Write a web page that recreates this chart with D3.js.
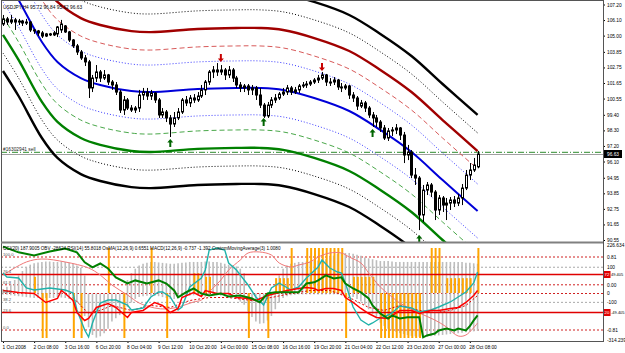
<!DOCTYPE html>
<html>
<head>
<meta charset="utf-8">
<script src="https://cdn.jsdelivr.net/npm/d3@7/dist/d3.min.js"></script>
<style>
body { margin: 0; background: #fff; }
svg { display: block; }
text { font-family: "Liberation Sans", Arial, sans-serif; }
</style>
</head>
<body>
<svg id="chart" width="625" height="353"></svg>
<script>
// USDJPY H4, 1 - 28 Oct 2008, one row per bar: [open, high, low, close]
var bars = [
[105.82,106.46,105.68,106.18],[106.18,106.32,105.75,105.96],[105.96,106.46,105.82,106.11],[106.11,106.25,105.40,105.96],
[105.96,106.18,105.75,106.03],[106.03,106.11,105.68,105.89],[105.89,106.18,105.75,105.96],[105.96,106.03,105.26,105.40],
[105.40,105.47,105.12,105.33],[105.33,105.40,104.97,105.19],[105.19,105.33,104.83,104.97],[104.97,105.19,104.90,105.12],
[105.12,105.19,104.97,105.05],[105.05,105.33,104.97,105.19],[105.12,105.68,104.90,105.61],[105.40,106.11,105.19,105.82],
[105.68,105.75,105.19,105.26],[105.26,105.33,104.55,104.69],[104.69,104.76,104.13,104.27],[104.27,104.41,103.63,103.84],
[103.84,103.98,103.28,103.42],[103.42,103.63,102.85,103.14],[103.14,103.28,100.59,101.30],[101.30,102.22,101.01,102.00],
[102.00,102.92,101.72,102.43],[102.43,102.57,101.72,102.00],[102.00,102.57,101.86,102.22],[102.22,102.29,101.51,101.72],
[101.72,101.86,101.16,101.51],[101.51,101.72,100.80,101.01],[101.01,101.16,99.53,99.74],[99.74,100.73,99.39,100.45],
[100.45,100.59,99.74,99.88],[99.88,100.09,99.60,99.74],[99.74,100.02,99.53,99.88],[99.88,101.16,99.60,100.80],
[100.80,101.30,100.45,101.01],[101.01,101.30,100.45,100.73],[100.73,101.16,100.45,100.94],[100.94,101.01,100.24,100.45],
[100.45,100.59,99.18,99.39],[99.39,99.88,99.18,99.60],[99.60,99.74,98.89,99.18],[99.18,99.39,97.83,98.75],
[98.75,99.60,98.54,99.18],[99.18,99.88,99.03,99.60],[99.60,100.59,99.46,100.45],[100.45,100.73,100.02,100.24],
[100.24,100.80,99.95,100.59],[100.59,100.87,100.24,100.45],[100.45,101.01,100.31,100.73],[100.73,101.51,100.59,101.16],
[101.16,101.86,100.80,101.72],[101.72,102.57,101.51,102.43],[102.43,102.85,102.00,102.57],[102.57,103.06,102.15,102.43],
[102.43,102.92,102.22,102.57],[102.57,102.71,101.86,102.22],[102.22,102.85,102.00,102.57],[102.57,102.71,101.72,102.00],
[102.00,102.15,101.30,101.51],[101.51,101.72,101.01,101.30],[101.30,101.58,101.01,101.44],[101.44,101.58,100.80,101.16],
[101.16,101.51,100.80,101.30],[101.30,101.44,100.45,100.80],[100.80,101.30,99.88,100.09],[100.09,100.24,99.18,99.32],
[99.32,100.31,99.18,100.09],[100.09,100.66,99.88,100.45],[100.45,100.87,100.24,100.59],[100.59,101.01,100.45,100.87],
[100.87,101.30,100.73,101.01],[101.01,101.51,100.80,101.30],[101.30,101.44,100.80,101.01],[101.01,101.37,100.87,101.16],
[101.16,101.58,100.94,101.44],[101.44,101.72,101.30,101.51],[101.51,101.79,101.30,101.58],[101.58,101.86,101.44,101.72],
[101.72,102.00,101.58,101.86],[101.86,102.22,101.65,102.00],[102.00,102.43,101.86,102.22],[102.22,102.29,101.44,101.72],
[101.72,102.00,101.44,101.72],[101.72,102.07,101.51,101.86],[101.86,101.93,101.16,101.37],[101.37,101.65,101.01,101.30],
[101.30,101.58,101.16,101.44],[101.44,101.51,100.52,100.80],[100.80,101.01,100.31,100.59],[100.59,100.73,99.74,100.02],
[100.02,100.45,99.88,100.24],[100.24,100.38,99.60,99.88],[99.88,100.02,99.18,99.39],[99.39,99.60,98.54,99.18],
[99.18,99.39,98.54,98.89],[98.89,99.03,98.19,98.47],[98.47,98.68,97.62,97.76],[97.76,98.47,97.55,98.26],
[98.26,98.54,97.90,98.33],[98.33,98.75,98.04,98.47],[98.47,98.54,97.62,97.97],[97.97,98.19,95.99,96.56],
[96.56,97.27,96.20,96.77],[96.77,96.91,94.93,95.14],[95.14,95.64,94.44,94.93],[94.93,95.07,91.25,92.32],
[92.32,94.44,91.82,94.08],[94.08,94.65,93.73,94.44],[94.44,94.58,93.59,93.94],[93.94,94.08,91.96,92.67],
[92.67,93.73,92.32,93.52],[93.52,93.66,92.53,93.02],[93.02,93.52,91.96,93.16],[93.16,93.59,92.67,93.38],
[93.38,93.66,92.88,93.16],[93.16,93.80,92.95,93.52],[93.52,94.51,93.02,94.22],[94.22,95.50,94.08,95.14],
[95.14,95.99,94.79,95.50],[95.50,96.35,95.36,95.85],[95.72,96.84,95.62,96.63]
];

// time labels, one every 8 bars
var timeLabels = ["1 Oct 2008","2 Oct 08:00","3 Oct 16:00","6 Oct 20:00","8 Oct 04:00","9 Oct 12:00",
  "10 Oct 20:00","14 Oct 00:00","15 Oct 08:00","16 Oct 16:00","19 Oct 20:00","21 Oct 04:00",
  "22 Oct 12:00","23 Oct 20:00","27 Oct 00:00","28 Oct 08:00"];
var priceTicks = [107.20,106.10,105.00,103.85,102.75,101.65,100.55,99.40,98.30,97.20,96.10,94.95,93.85,92.75,91.65,90.55];
var lastPrice = 96.63;
var orderPrice = 96.75;
var orderText = "#16302941 sell";
var title = "USDJPY,H4  95.72 96.84 95.62 96.63";

// regression channel: centre line [bar, price] and band deviations (price units)
var channelCenter = [[0,109.29],[4,107.52],[10,104.55],[14,103.14],[20,102.00],[25,101.51],[33,101.08],[38,101.01],
  [50,101.23],[60,101.30],[66,101.30],[72,101.16],[80,100.59],[89,99.67],[97,98.33],[105,96.77],[113,94.79],[122,92.60]];
var channelDevs = [1.91, 2.97, 4.24, 5.52, 6.79];

// signal arrows [bar, price, direction]
var arrows = [[43,97.41,"up"],[56,103.42,"down"],[67,98.89,"up"],[82,102.78,"down"],[95,98.11,"up"],[107,90.62,"up"]];

// indicator window
var indicatorText = "CCI(20) 187.9005  OBV -28624  RSI(14) 55.8018  OsMA(12,26,9) 0.6551  MACD(12,26,9) -0.737 -1.392  CustomMovingAverage(3) 1.0080";
var cciLine = [[0,67],[1,44.5],[4,38.8],[6,-18.2],[8,-29.5],[12,-18.2],[16,-29.5],[18,-46.6],[19,-143.4],[21,-257.3],
  [22,-297.1],[23,-217.4],[25,-103.6],[27,-86.5],[29,-86.5],[32,-114.9],[33,-143.4],[36,-132],[38,-69.4],[40,-40.9],
  [41,-40.9],[43,-69.4],[45,-143.4],[46,-126.3],[48,-12.5],[51,38.8],[52,84.3],[53,198.2],[55,209.6],[57,198.2],
  [58,124.2],[60,84.3],[63,-1.1],[65,-69.4],[67,-114.9],[69,-18.2],[71,10.3],[74,-29.5],[76,-12.5],[78,38.8],
  [81,101.4],[82,141.2],[84,95.7],[86,72.9],[87,67.2],[88,10.3],[90,-126.3],[92,-200.3],[94,-228.8],[95,-217.4],
  [97,-189],[99,-171.9],[100,-160.5],[102,-120.6],[105,-132],[107,-154.8],[110,-143.4],[112,-126.3],[115,-97.9],
  [117,-69.4],[119,-40.9],[121,10.3],[122,72.9]];
var cmaLine = [[0,55.8],[6,129.9],[10,146.9],[16,129.9],[22,95.7],[25,55.8],[28,-1.1],[32,-58],[35,-103.6],[39,-132],
  [42,-137.7],[45,-126.3],[49,-97.9],[51,-86.5],[53,-40.9],[56,27.4],[58,84.3],[61,141.2],[63,181.1],[66,186.8],
  [69,169.7],[71,124.2],[74,101.4],[76,112.8],[79,129.9],[81,158.3],[84,181.1],[87,181.1],[89,158.3],[92,124.2],
  [94,67.2],[97,-12.5],[100,-69.4],[102,-103.6],[107,-160.5],[111,-200.3],[114,-240.2],[117,-291.4],[119,-285.7],[122,-217.4]];
var rsiLine = [[0,50.1],[4,47.4],[8,46],[11,33.7],[14,39.2],[15,50.1],[16,46],[18,36.4],[19,20],[21,9.1],[22,11.8],
  [24,26.9],[27,32.3],[29,26.9],[32,13.2],[33,20],[36,22.8],[39,33.7],[41,29.6],[43,20],[45,25.5],[46,40.5],[49,47.4],
  [51,41.9],[52,50.1],[55,46],[58,46],[60,40.5],[63,39.2],[65,36.4],[68,43.3],[70,46],[73,50.1],[76,52.8],[78,54.2],
  [80,52.8],[81,50.1],[83,52.8],[85,52.8],[87,50.1],[88,40.5],[90,33.7],[92,25.5],[94,18.6],[96,13.2],[99,11.8],
  [102,22.8],[105,22.8],[107,18.6],[110,22.8],[112,22.8],[115,25.5],[117,26.9],[119,33.7],[121,43.3],[122,50.1]];
var rsiSignal = [[18,40.5],[22,18.6],[25,22.8],[28,29.6],[33,22.8],[38,29.6],[43,26.9],[48,36.4],[53,40.5],[58,40.5],
  [64,36.4],[69,40.5],[74,46],[79,50.1],[84,50.1],[89,40.5],[94,26.9],[98,22.8],[102,29.6],[107,22.8],[111,20],
  [115,22.8],[119,29.6],[122,43.3]];
var obvLine = [[0,122],[4,107],[8,99],[12,109],[16,117],[19,107],[21,81],[23,68],[25,78],[27,65],[29,42],[32,26],
  [34,34],[37,26],[40,34],[42,26],[44,8],[45,-10],[47,3],[49,13],[51,0],[53,-5],[56,0],[58,-8],[61,-5],[64,-13],
  [66,-23],[68,0],[70,3],[73,3],[76,3],[78,26],[80,29],[81,34],[83,47],[85,39],[87,42],[88,26],[90,13],[92,3],
  [94,-13],[95,-31],[97,-52],[99,-65],[100,-57],[102,-65],[104,-62],[106,-62],[107,-62],[108,-114],[109,-109],
  [111,-104],[112,-96],[114,-91],[116,-96],[117,-91],[119,-96],[120,-85],[121,-70],[122,-57]];
// grey histograms, one value per bar
var osmaHist = [0.10,0.15,0.20,0.30,0.40,0.50,0.58,
  0.64,0.67,0.69,0.70,0.71,0.71,0.70,0.70,0.71,0.70,0.68,0.66,0.62,0.57,
  0.40,0,0,0,0,0,0,0,0,0,0,
  0.30,0.45,0.55,0.62,0.66,0.68,0.70,0.70,0.69,0.68,0.67,0.66,0.66,0.67,0.68,0.69,0.70,0.70,0.70,
  0.70,0.71,0.71,0.70,0.70,0.68,0.66,0.64,0.62,0.60,0.55,0.45,
  0,0,0,0,0,0,0,0,
  0.40,0.55,0.62,0.66,0.68,0.70,0.70,0.71,0.72,0.72,0.73,0.74,0.76,0.80,
  0.84,0.88,0.90,0.90,0.90,0.88,0.86,0.84,
  0.80,0.78,0.76,0.74,0.72,0.72,0.72,0.71,0.70,0.70,0.70,0.70,0.70,0.70,0.70,0.70,0.70,0.70,0.70,0.70,
  0.70,0.70,0.70,0.70,0.70,0.70,0.68,0.68,0.67,0.66];
var macdHist = [-0.02,-0.03,-0.04,-0.05,-0.06,-0.07,-0.08,-0.09,-0.10,-0.10,-0.10,-0.10,-0.10,-0.10,-0.09,-0.09,-0.10,-0.12,-0.15,-0.20,-0.30,
  -0.50,-0.75,-0.92,-0.98,-0.95,-0.88,-0.78,-0.62,-0.55,-0.48,-0.40,
  -0.30,-0.20,-0.12,-0.08,-0.06,-0.05,-0.05,-0.05,-0.06,-0.08,-0.10,-0.12,-0.12,-0.10,-0.08,-0.06,-0.05,-0.04,-0.04,-0.03,
  -0.03,-0.03,-0.03,-0.04,-0.05,-0.06,-0.08,-0.10,-0.12,-0.18,-0.25,
  -0.40,-0.52,-0.62,-0.67,-0.66,-0.60,-0.50,-0.35,
  -0.20,-0.10,-0.06,-0.04,-0.03,-0.02,-0.02,-0.02,-0.02,-0.02,-0.02,-0.02,-0.02,-0.02,-0.02,-0.02,-0.02,-0.03,-0.05,-0.08,
  -0.12,-0.18,-0.25,-0.35,-0.45,-0.55,
  -0.65,-0.72,-0.78,-0.82,-0.85,-0.88,-0.90,-0.92,-0.94,-0.95,-0.96,-0.96,-0.96,-0.95,-0.94,-0.93,-0.92,-0.91,-0.90,
  -0.89,-0.88,-0.87,-0.86,-0.85,-0.84,-0.83];
// orange histogram [bar, value], clipped to the window
var orangeHist = [[8,0.36],[10,-1],[11,-1],[18,-1],[20,-1],[27,1],[31,-1],[38,1],[42,-1],[49,0.44],[50,0.44],[52,0.36],
  [53,0.36],[63,-1],[68,-1],[70,0.33],[71,0.33],[72,0.33],[73,0.33],[74,1],[78,1],[79,1],[80,1],[81,1],[82,1],[83,1],
  [84,1],[85,1],[86,1],[87,1],[88,-1],[90,0.36],[91,0.36],[92,0.36],[93,0.36],[94,0.36],[95,0.36],[97,-1],[98,-1],
  [99,-1],[100,-1],[101,-1],[102,-1],[103,-1],[104,-1],[105,-1],[106,-1],[107,-1],[110,1],[111,1],[112,1],[114,0.33],
  [115,0.33],[116,0.33],[117,0.33],[118,0.33],[119,0.33],[120,0.33],[122,1]];
var fibLevels = [100, 76.4, 61.8, 50, 38.2, 23.6, 0];
var cciTicks = [226.634, 100, 0, -100, -314.239];
var cciLevels = [100, 0, -100];
var macdTicks = [0.81, 0, -0.81];
var rsiLevels = [72, 20];
var obvTicks = [49.405, -49.405];

// layout
var main = {left: 1, right: 603, top: 1, bottom: 242};
var sub = {top: 244, bottom: 341};

var svg = d3.select("#chart");
svg.append("rect").attr("width", 625).attr("height", 353).attr("fill", "#fff");

var defs = svg.append("defs");
defs.append("clipPath").attr("id", "clipMain").append("rect")
  .attr("x", main.left).attr("y", main.top)
  .attr("width", main.right - main.left).attr("height", main.bottom - main.top);
defs.append("clipPath").attr("id", "clipSub").append("rect")
  .attr("x", main.left).attr("y", sub.top)
  .attr("width", main.right - main.left).attr("height", sub.bottom - sub.top);

// scales
var x = d3.scaleLinear().domain([0, bars.length - 1]).range([3, 477.6]);
var y = d3.scaleLinear().domain([90.55, 107.20]).range([240, 4.5]);
var cciY = d3.scaleLinear().domain([-314.239, 226.634]).range([340, 245]);
var macdY = d3.scaleLinear().domain([-0.81, 0.81]).range([330, 257]);
var rsiY = d3.scaleLinear().domain([20, 72]).range([312.5, 274.5]);
var obvY = d3.scaleLinear().domain([-49.405, 49.405]).range([312.5, 274.5]);
var fibY = d3.scaleLinear().domain([0, 100]).range([330, 257]);
var orangeY = d3.scaleLinear().domain([-1, 1]).range([338, 248]).clamp(true);

// ---------- main window ----------
var gMain = svg.append("g").attr("clip-path", "url(#clipMain)");

// order line and bid line
gMain.append("line").attr("x1", main.left).attr("x2", main.right)
  .attr("y1", y(orderPrice)).attr("y2", y(orderPrice))
  .attr("stroke", "#2e8b2e").attr("stroke-width", 1).attr("stroke-dasharray", "6,2,1,2");
gMain.append("line").attr("x1", main.left).attr("x2", main.right)
  .attr("y1", Math.round(y(lastPrice)) + 0.5).attr("y2", Math.round(y(lastPrice)) + 0.5)
  .attr("stroke", "#a0a0a0").attr("stroke-width", 1);
gMain.append("text").attr("x", 3).attr("y", y(orderPrice) - 1.5)
  .attr("font-size", "4.8px").attr("fill", "#222").text(orderText);

// regression channel
function bandLine(off) {
  return d3.line()
    .x(function(d) { return x(d[0]); })
    .y(function(d) { return y(d[1] + off); })
    .curve(d3.curveCatmullRom);
}
var bandStyle = [
  {up: "#3c3cff", down: "#3c3cff", w: 1, dash: "1,2"},
  {up: "#d85a5a", down: "#4aa84a", w: 1, dash: "5,3"},
  {up: "#a00000", down: "#008000", w: 2.4, dash: null},
  {up: "#000", down: "#000", w: 1, dash: "1,2"},
  {up: "#000", down: "#000", w: 2.4, dash: null}
];
channelDevs.forEach(function(dev, k) {
  var st = bandStyle[k];
  [[dev, st.up], [-dev, st.down]].forEach(function(p) {
    gMain.append("path").datum(channelCenter)
      .attr("d", bandLine(p[0]))
      .attr("fill", "none").attr("stroke", p[1])
      .attr("stroke-width", st.w)
      .attr("stroke-dasharray", st.dash);
  });
});
gMain.append("path").datum(channelCenter)
  .attr("d", bandLine(0))
  .attr("fill", "none").attr("stroke", "#0000d8").attr("stroke-width", 2);

// candles
var candle = gMain.selectAll(".candle").data(bars).enter().append("g");
candle.append("line")
  .attr("x1", function(d, i) { return Math.round(x(i)) + 0.5; })
  .attr("x2", function(d, i) { return Math.round(x(i)) + 0.5; })
  .attr("y1", function(d) { return y(d[1]); })
  .attr("y2", function(d) { return y(d[2]); })
  .attr("stroke", "#000").attr("stroke-width", 1);
candle.append("rect")
  .attr("x", function(d, i) { return Math.round(x(i)) - 0.5; })
  .attr("width", 2)
  .attr("y", function(d) { return y(Math.max(d[0], d[3])); })
  .attr("height", function(d) { return Math.max(1, Math.abs(y(d[0]) - y(d[3]))); })
  .attr("fill", function(d) { return d[3] >= d[0] ? "#fff" : "#000"; })
  .attr("stroke", "#000").attr("stroke-width", 1);

// arrows
gMain.selectAll(".arrow").data(arrows).enter().append("path")
  .attr("transform", function(d) {
    return "translate(" + x(d[0]) + "," + y(d[1]) + ")" + (d[2] === "down" ? " scale(1,-1)" : "");
  })
  .attr("d", "M0,-4 L3,-0.5 L1,-0.5 L1,4 L-1,4 L-1,-0.5 L-3,-0.5 Z")
  .attr("fill", function(d) { return d[2] === "down" ? "#c80000" : "#006400"; });

svg.append("text").attr("x", 3).attr("y", 9).attr("font-size", "4.8px").attr("fill", "#000").text(title);

// price axis
var yAxis = svg.append("g").attr("transform", "translate(" + main.right + ",0)")
  .call(d3.axisRight(y).tickValues(priceTicks).tickSize(2).tickFormat(d3.format(".2f")));
yAxis.select(".domain").remove();
yAxis.selectAll("text").attr("font-size", "4.8px").attr("x", 4).attr("fill", "#000");

svg.append("rect").attr("x", main.right + 1).attr("y", y(lastPrice) - 4)
  .attr("width", 18).attr("height", 8).attr("fill", "#000");
svg.append("text").attr("x", main.right + 4).attr("y", y(lastPrice) + 2)
  .attr("font-size", "4.8px").attr("fill", "#fff").text(d3.format(".2f")(lastPrice));

// ---------- indicator window ----------
var gSub = svg.append("g").attr("clip-path", "url(#clipSub)");

macdTicks.forEach(function(v) {
  gSub.append("line").attr("x1", main.left).attr("x2", main.right)
    .attr("y1", macdY(v)).attr("y2", macdY(v))
    .attr("stroke", "#d02020").attr("stroke-width", 1).attr("stroke-dasharray", "2,2");
});
cciLevels.forEach(function(v) {
  gSub.append("line").attr("x1", main.left).attr("x2", main.right)
    .attr("y1", cciY(v)).attr("y2", cciY(v))
    .attr("stroke", v === 0 ? "#d02020" : "#a8a8a8").attr("stroke-width", 1).attr("stroke-dasharray", "2,2");
});

// histograms
gSub.selectAll(".osma").data(osmaHist).enter().append("line")
  .attr("x1", function(d, i) { return x(i); }).attr("x2", function(d, i) { return x(i); })
  .attr("y1", macdY(0)).attr("y2", function(d) { return macdY(d); })
  .attr("stroke", "#bdbdbd").attr("stroke-width", 1.6);
gSub.selectAll(".macd").data(macdHist).enter().append("line")
  .attr("x1", function(d, i) { return x(i); }).attr("x2", function(d, i) { return x(i); })
  .attr("y1", macdY(0)).attr("y2", function(d) { return macdY(d); })
  .attr("stroke", "#bdbdbd").attr("stroke-width", 1.6);
gSub.selectAll(".orange").data(orangeHist).enter().append("line")
  .attr("x1", function(d) { return x(d[0]) + 0.8; }).attr("x2", function(d) { return x(d[0]) + 0.8; })
  .attr("y1", orangeY(0)).attr("y2", function(d) { return orangeY(d[1]); })
  .attr("stroke", "#ffa500").attr("stroke-width", 2);

rsiLevels.forEach(function(v) {
  gSub.append("line").attr("x1", main.left).attr("x2", main.right)
    .attr("y1", rsiY(v)).attr("y2", rsiY(v))
    .attr("stroke", "#e00000").attr("stroke-width", 1.3);
});

function indLine(sc) {
  return d3.line()
    .x(function(d) { return x(d[0]); })
    .y(function(d) { return sc(d[1]); });
}
gSub.append("path").datum(cmaLine).attr("d", indLine(cciY).curve(d3.curveCatmullRom))
  .attr("fill", "none").attr("stroke", "#f07878").attr("stroke-width", 1);
gSub.append("path").datum(rsiSignal).attr("d", indLine(rsiY))
  .attr("fill", "none").attr("stroke", "#e00000").attr("stroke-width", 1).attr("stroke-dasharray", "2,2");
gSub.append("path").datum(cciLine).attr("d", indLine(cciY))
  .attr("fill", "none").attr("stroke", "#20b2aa").attr("stroke-width", 1.4);
gSub.append("path").datum(rsiLine).attr("d", indLine(rsiY))
  .attr("fill", "none").attr("stroke", "#ff0000").attr("stroke-width", 1.5);
gSub.append("path").datum(obvLine).attr("d", indLine(obvY))
  .attr("fill", "none").attr("stroke", "#008000").attr("stroke-width", 2);

// left fib labels
svg.selectAll(".fib").data(fibLevels).enter().append("text")
  .attr("x", 3).attr("y", function(d) { return fibY(d) - 1; })
  .attr("font-size", "4.2px").attr("fill", "#555")
  .text(function(d) { return d3.format(".1f")(d); });

svg.append("text").attr("x", 3).attr("y", 250).attr("font-size", "4.6px").attr("fill", "#000").text(indicatorText);

// indicator right labels
function rightLabel(xx, yy, txt, size) {
  svg.append("text").attr("x", xx).attr("y", yy + 1.7)
    .attr("font-size", size).attr("fill", "#000").text(txt);
}
cciTicks.forEach(function(v) { rightLabel(main.right + 4, cciY(v), v === 0 ? "0.00" : String(v), "4.8px"); });
macdTicks.forEach(function(v) { rightLabel(main.right + 4, macdY(v), String(v), "4.8px"); });
obvTicks.forEach(function(v) { rightLabel(main.right + 8, obvY(v), String(v), "4px"); });
rsiLevels.forEach(function(v) {
  svg.append("rect").attr("x", main.right + 1).attr("y", rsiY(v) - 3.5)
    .attr("width", 6.5).attr("height", 7).attr("fill", "#e00000");
  svg.append("text").attr("x", main.right + 1.6).attr("y", rsiY(v) + 1.6)
    .attr("font-size", "4.3px").attr("fill", "#fff").text(String(v));
});

// time axis
var xAxis = svg.append("g").attr("transform", "translate(0," + sub.bottom + ")")
  .call(d3.axisBottom(x)
    .tickValues(timeLabels.map(function(d, k) { return k * 8; }))
    .tickSize(2)
    .tickFormat(function(d) { return timeLabels[d / 8]; }));
xAxis.select(".domain").remove();
xAxis.selectAll("text").attr("font-size", "4.8px").attr("text-anchor", "start")
  .attr("x", -1).attr("y", 5).attr("fill", "#000");

// frame
svg.append("rect").attr("x", 1.5).attr("y", 0.5).attr("width", main.right - 1).attr("height", sub.bottom)
  .attr("fill", "none").attr("stroke", "#555").attr("stroke-width", 1);
svg.append("line").attr("x1", 1).attr("x2", main.right).attr("y1", 242.5).attr("y2", 242.5)
  .attr("stroke", "#808080").attr("stroke-width", 2);
</script>
</body>
</html>
